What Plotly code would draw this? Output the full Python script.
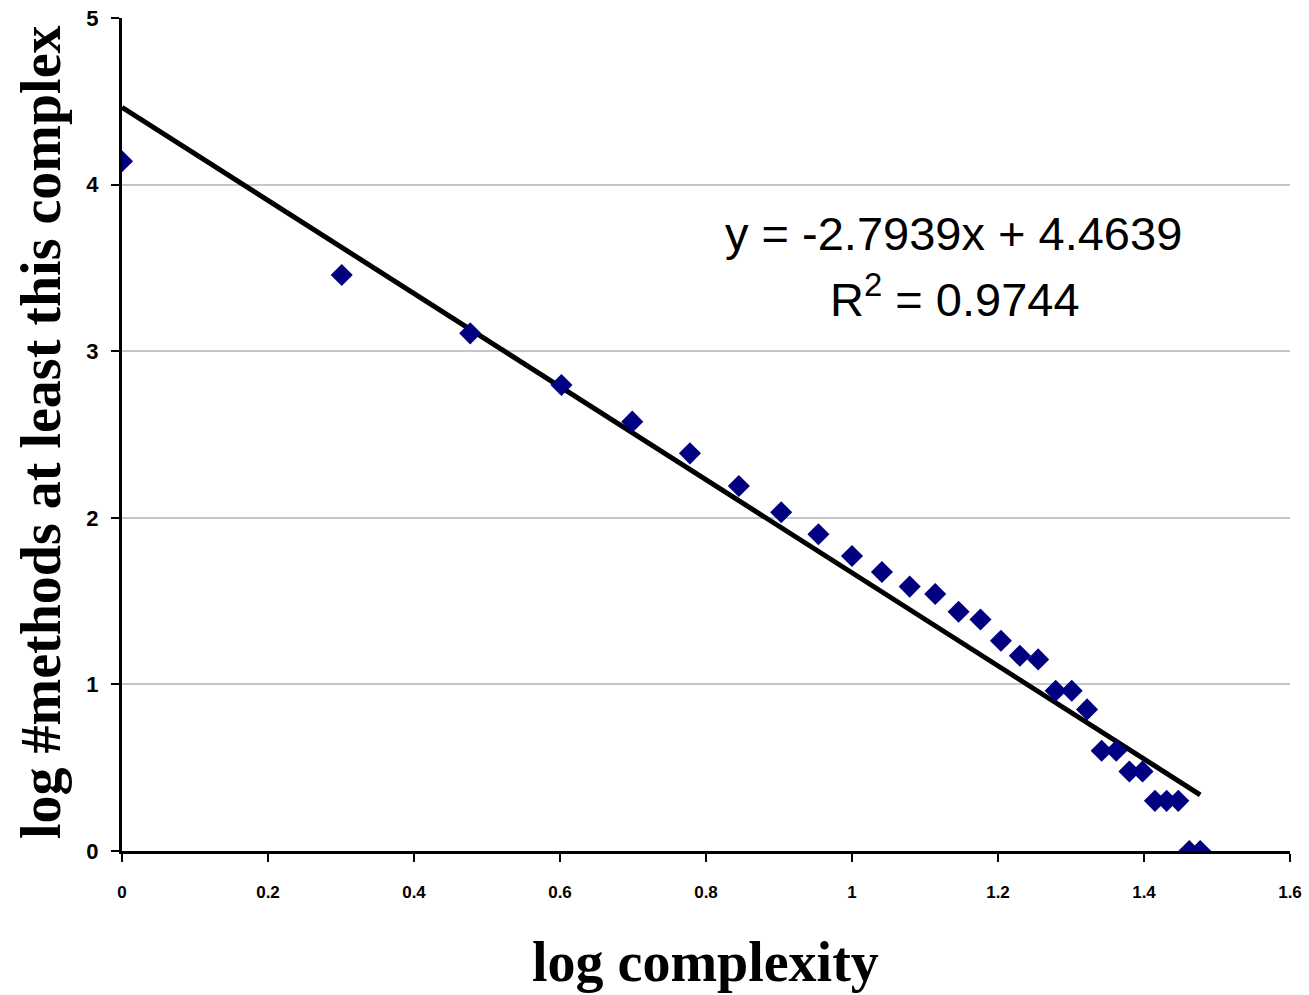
import plotly.graph_objects as go

# log complexity (x) and log #methods at least this complex (y)
log_complexity = [0.000, 0.301, 0.477, 0.602, 0.699, 0.778, 0.845, 0.903, 0.954, 1.000,
                  1.041, 1.079, 1.114, 1.146, 1.176, 1.204, 1.230, 1.255, 1.279, 1.301,
                  1.322, 1.342, 1.362, 1.380, 1.398, 1.415, 1.431, 1.447, 1.462, 1.477]
log_methods = [4.140, 3.457, 3.107, 2.797, 2.577, 2.387, 2.191, 2.033, 1.901, 1.771,
               1.675, 1.587, 1.543, 1.436, 1.390, 1.262, 1.172, 1.150, 0.962, 0.962,
               0.850, 0.602, 0.602, 0.477, 0.477, 0.301, 0.301, 0.301, 0.000, 0.000]

slope = -2.7939
intercept = 4.4639
r_squared = 0.9744

x_ticks = [0, 0.2, 0.4, 0.6, 0.8, 1.0, 1.2, 1.4, 1.6]
x_tick_labels = ["0", "0.2", "0.4", "0.6", "0.8", "1", "1.2", "1.4", "1.6"]
y_ticks = [0, 1, 2, 3, 4, 5]

trend_x = [0, max(log_complexity)]
trend_y = [slope * v + intercept for v in trend_x]

fig = go.Figure()
fig.add_trace(go.Scatter(
    x=trend_x, y=trend_y, mode="lines",
    line=dict(color="black", width=5), showlegend=False, hoverinfo="skip"))
fig.add_trace(go.Scatter(
    x=log_complexity, y=log_methods, mode="markers",
    marker=dict(symbol="diamond", size=17, color="#000080",
                line=dict(width=0)),
    showlegend=False))

fig.update_layout(
    width=1309, height=995,
    margin=dict(l=122, r=19, t=18, b=144, autoexpand=False),
    paper_bgcolor="white", plot_bgcolor="white",
    font=dict(family="Liberation Sans, Arial, sans-serif", color="black"),
    xaxis=dict(
        range=[0, 1.6], tickvals=x_ticks, ticktext=x_tick_labels,
        showgrid=False, zeroline=False,
        showline=True, linecolor="black", linewidth=3,
        ticks="outside", ticklen=8, tickwidth=2, tickcolor="black",
        ticklabelstandoff=16,
        tickfont=dict(size=17, family="Liberation Sans, Arial", weight="bold"),
    ),
    yaxis=dict(
        range=[0, 5], tickvals=y_ticks,
        showgrid=True, gridcolor="#c6c6c6", gridwidth=2,
        zeroline=False,
        showline=True, linecolor="black", linewidth=3,
        ticks="outside", ticklen=8, tickwidth=2, tickcolor="black",
        ticklabelstandoff=8,
        tickfont=dict(size=22, family="Liberation Sans, Arial", weight="bold"),
    ),
)

serif = "Liberation Serif, Times New Roman, serif"
fig.add_annotation(
    text="<b>log complexity</b>", xref="paper", yref="paper",
    x=(705 - 122) / 1168, y=(851 - 962) / 833, xanchor="center", yanchor="middle",
    showarrow=False, font=dict(family=serif, size=56, color="black"))
fig.add_annotation(
    text="<b>log #methods at least this complex</b>", xref="paper", yref="paper",
    x=(41 - 122) / 1168, y=(851 - 432) / 833, xanchor="center", yanchor="middle",
    textangle=-90, showarrow=False, font=dict(family=serif, size=56, color="black"))

fig.add_annotation(
    text=f"y = {slope}x + {intercept}", xref="paper", yref="paper",
    x=(953 - 122) / 1168, y=(851 - 233) / 833, xanchor="center", yanchor="middle",
    showarrow=False, font=dict(family="Liberation Sans, Arial", size=47, color="black"))
fig.add_annotation(
    text=f"R<sup>2</sup> = {r_squared}", xref="paper", yref="paper",
    x=(955 - 122) / 1168, y=(851 - 296) / 833, xanchor="center", yanchor="middle",
    showarrow=False, font=dict(family="Liberation Sans, Arial", size=47, color="black"))

fig.write_html(
    "out.html",
    config={"displayModeBar": False},
    post_script="document.body.style.margin='0';document.body.style.padding='0';"
                "document.body.style.overflow='hidden';")
